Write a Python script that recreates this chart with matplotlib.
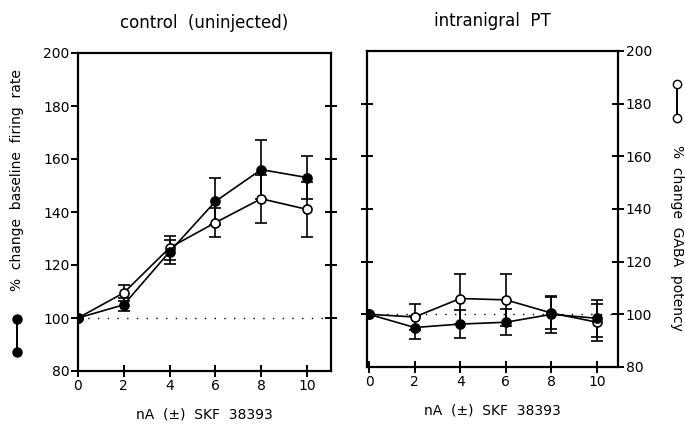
import matplotlib
matplotlib.use("Agg")
import matplotlib.pyplot as plt
from matplotlib.lines import Line2D

# nA of SKF 38393
dose = [0, 2, 4, 6, 8, 10]

# control (uninjected)
ctrl_rate = [100, 105, 125, 144, 156, 153]
ctrl_rate_err = [0, 2.5, 4.5, 9, 11, 8]
ctrl_gaba = [100, 109.5, 126.5, 136, 145, 141]
ctrl_gaba_err = [0, 3, 4.5, 5.5, 9, 10.5]

# intranigral PT
pt_rate = [100, 95, 96.3, 97, 100, 98.5]
pt_rate_err = [0, 4.5, 5.4, 5, 7, 7]
pt_gaba = [100, 99, 106, 105.5, 100.5, 97]
pt_gaba_err = [0, 5, 9.5, 10, 6, 7]

yticks = [80, 100, 120, 140, 160, 180, 200]
xticks = [0, 2, 4, 6, 8, 10]

plt.rcParams["font.family"] = "DejaVu Sans"
plt.rcParams["font.size"] = 10

fig = plt.figure(figsize=(6.85, 4.26), dpi=100)
ax1 = fig.add_axes([78 / 685, 55 / 426, 253 / 685, 318 / 426])
ax2 = fig.add_axes([367 / 685, 59 / 426, 251 / 685, 316 / 426])


def draw_series(ax, y, err, filled):
    ax.errorbar(dose, y, yerr=err, color="black", lw=1.2, elinewidth=1.2,
                capsize=4, capthick=1.2, marker="o", markersize=6.5,
                markerfacecolor="black" if filled else "white",
                markeredgecolor="black", markeredgewidth=1.2, zorder=3)


for ax in (ax1, ax2):
    ax.set_ylim(80, 200)
    ax.set_xticks(xticks)
    ax.set_yticks(yticks)
    for s in ax.spines.values():
        s.set_linewidth(1.6)
    ax.tick_params(axis="x", direction="inout", length=9, width=1.4, pad=1)
    ax.axhline(100, color="black", lw=1, ls=(0, (1, 6)), zorder=1)

# left panel
ax1.set_xlim(0, 11.05)
draw_series(ax1, ctrl_gaba, ctrl_gaba_err, False)
draw_series(ax1, ctrl_rate, ctrl_rate_err, True)
ax1.tick_params(axis="y", which="both", direction="out", length=5, width=1.4,
                left=True, right=False, pad=1)
sec = ax1.secondary_yaxis("right")
sec.set_yticks([100, 120, 140, 160, 180])
sec.tick_params(direction="inout", length=9, width=1.4, labelright=False)
sec.spines["right"].set_visible(False)
ax1.set_title("control  (uninjected)", pad=18)
ax1.set_xlabel("nA  (\u00b1)  SKF  38393", labelpad=11)

# right panel
ax2.set_xlim(-0.09, 10.92)
draw_series(ax2, pt_gaba, pt_gaba_err, False)
draw_series(ax2, pt_rate, pt_rate_err, True)
ax2.yaxis.tick_right()
ax2.tick_params(axis="y", direction="inout", length=9, width=1.4, pad=1)
sec2 = ax2.secondary_yaxis("left")
sec2.set_yticks([100, 120, 140, 160, 180])
sec2.tick_params(direction="inout", length=9, width=1.4, labelleft=False)
sec2.spines["left"].set_visible(False)
ax2.set_title("intranigral  PT", pad=18)
ax2.set_xlabel("nA  (\u00b1)  SKF  38393", labelpad=11)

# axis labels with symbol keys
fig.text(17 / 685, 0.577, "%  change  baseline  firing  rate", rotation=90,
         ha="center", va="center")
fig.text(677 / 685, 0.441, "%  change  GABA  potency", rotation=270,
         ha="center", va="center")
fig.add_artist(Line2D([17 / 685, 17 / 685], [0.2512, 0.1737], color="black",
                      lw=1.4, marker="o", markersize=6.5,
                      markerfacecolor="black", transform=fig.transFigure))
fig.add_artist(Line2D([677 / 685, 677 / 685], [0.8028, 0.723], color="black",
                      lw=1.4, marker="o", markersize=6,
                      markerfacecolor="white", transform=fig.transFigure))

fig.savefig("out.png", dpi=100)
